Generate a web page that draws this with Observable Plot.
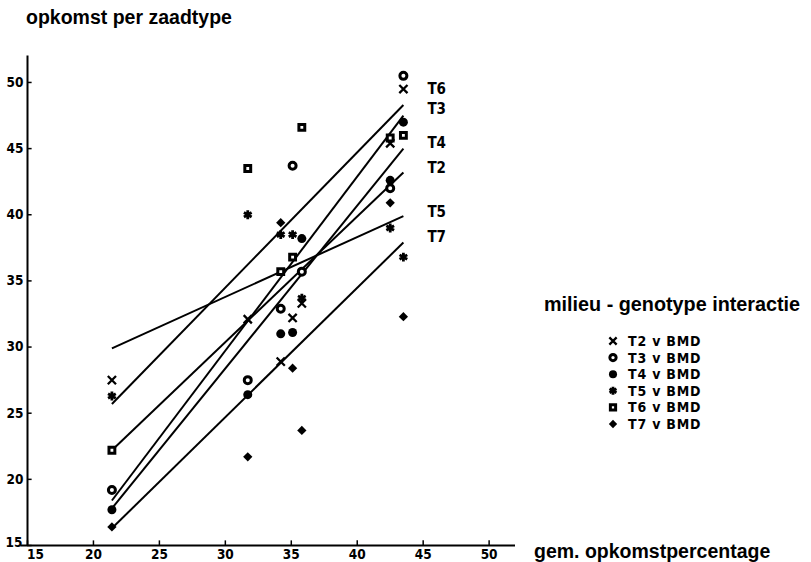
<!DOCTYPE html>
<html><head><meta charset="utf-8">
<script src="https://cdn.jsdelivr.net/npm/d3@7"></script>
<script src="https://cdn.jsdelivr.net/npm/@observablehq/plot@0.6"></script>
<style>
body{margin:0;background:#fff}
svg{display:block}
</style>
</head><body><div id="chart"></div>
<script>
// environment means (gem. opkomstpercentage)
const environments = [21.4, 31.7, 34.2, 35.1, 35.8, 42.5, 43.5];
const genotypes = ["T2", "T3", "T4", "T5", "T6", "T7"];
// opkomst per zaadtype, per environment
const T2 = [27.5, 32.1, 28.9, 32.2, 33.3, 45.4, 49.5];
const T3 = [19.2, 27.5, 32.9, 43.7, 35.7, 42.0, 50.5];
const T4 = [17.7, 26.4, 31.0, 31.1, 38.2, 42.6, 47.0];
const T5 = [26.3, 40.0, 38.5, 38.5, 33.7, 39.0, 36.8];
const T6 = [22.2, 43.5, 35.7, 36.8, 46.6, 45.8, 46.0];
const T7 = [16.4, 21.7, 39.4, 28.4, 23.7, 40.9, 32.3];
// fitted regression lines: value at lowest and highest environment
const lineStart = [22.2, 18.4, 17.8, 29.9, 25.7, 16.3];
const lineEnd = [43.2, 47.5, 45.0, 39.9, 48.3, 37.9];
// right-hand line label heights
const labelY = [43.5, 48.0, 45.4, 40.2, 49.5, 38.3];
const legendLabels = ["T2 v BMD", "T3 v BMD", "T4 v BMD", "T5 v BMD", "T6 v BMD", "T7 v BMD"];
const xTicks = [15, 20, 25, 30, 35, 40, 45, 50];
const yTicks = [15, 20, 25, 30, 35, 40, 45, 50];

const series = {T2, T3, T4, T5, T6, T7};
const rows = genotypes.flatMap(g => series[g].map((v, i) => ({genotype: g, x: environments[i], y: v})));
const lines = genotypes.map((g, i) => ({genotype: g, y1: lineStart[i], y2: lineEnd[i], label: g, ly: labelY[i]}));
const xMin = d3.min(environments), xMax = d3.max(environments);
const xOrigin = xTicks[0], yOrigin = yTicks[0];

const styles = {
  T2: {symbol: "times", stroke: "black", strokeWidth: 2.3, fill: "none", r: 3.8},
  T3: {symbol: "circle", stroke: "black", strokeWidth: 3, fill: "white", r: 3.5},
  T4: {symbol: "circle", fill: "black", stroke: "none", r: 4.5},
  T5: {symbol: "asterisk", stroke: "black", strokeWidth: 2.8, fill: "none", r: 4.2},
  T6: {symbol: "square", stroke: "black", strokeWidth: 3, fill: "white", r: 3.3},
  T7: {symbol: "square", fill: "black", stroke: "none", r: 3.7, rotate: 45}
};

const tickFont = "'Liberation Sans Narrow', 'DejaVu Sans Condensed', sans-serif";
const titleFont = "'Liberation Sans', Arial, sans-serif";
const tickText = {fontSize: 13.5, fontWeight: "bold", fill: "black"};

const plot = Plot.plot({
  width: 811,
  height: 562,
  marginLeft: 27,
  marginRight: 296,
  marginTop: 55.5,
  marginBottom: 17,
  style: {background: "white", fontFamily: tickFont},
  x: {domain: [15, 52], axis: null},
  y: {domain: [15, 52], axis: null},
  marks: [
    // axis lines
    Plot.ruleY([yOrigin], {x1: 14.5, x2: 52, stroke: "black", strokeWidth: 2}),
    Plot.ruleX([xOrigin], {y1: 15, y2: 52, stroke: "black", strokeWidth: 2}),
    // short inward ticks
    Plot.ruleX(xTicks, {x: d => d, y1: yOrigin, y2: yOrigin + 0.35, stroke: "black", strokeWidth: 1.5}),
    Plot.ruleY(yTicks, {y: d => d, x1: xOrigin, x2: xOrigin + 0.35, stroke: "black", strokeWidth: 1.5}),
    // x tick labels (15 shifted right of the corner)
    Plot.text(xTicks.filter(d => d !== xOrigin), {x: d => d, y: yOrigin, text: d => String(d), dy: 9.5, ...tickText}),
    Plot.text([xOrigin], {x: d => d, y: yOrigin, text: d => String(d), dy: 9, dx: 8, ...tickText}),
    // y tick labels
    Plot.text(yTicks.filter(d => d !== yOrigin), {x: xOrigin, y: d => d, text: d => String(d), dx: -4, textAnchor: "end", ...tickText}),
    Plot.text([yOrigin], {x: xOrigin, y: d => d, text: d => String(d), dx: -5, dy: -3, textAnchor: "end", ...tickText}),
    // regression lines
    Plot.link(lines, {x1: () => xMin, x2: () => xMax, y1: "y1", y2: "y2", stroke: "black", strokeWidth: 2}),
    Plot.text(lines, {x: () => xMax, y: "ly", text: "label", dx: 24, textAnchor: "start", fontSize: 15, fontWeight: "bold", fill: "black"}),
    // points per genotype
    ...genotypes.map(g => Plot.dot(rows.filter(d => d.genotype === g), {x: "x", y: "y", ...styles[g]}))
  ]
});

document.getElementById("chart").appendChild(plot);
const svg = d3.select(plot);

function addText(x, y, txt, size) {
  svg.append("text").attr("x", x).attr("y", y)
    .attr("text-anchor", "start")
    .attr("font-family", titleFont).attr("font-size", size).attr("font-weight", "bold")
    .text(txt);
}
addText(26, 24, "opkomst per zaadtype", 19.5);
addText(534, 558, "gem. opkomstpercentage", 19.5);
addText(544, 311, "milieu - genotype interactie", 19.8);

// legend
const symbolGen = {times: d3.symbolTimes, circle: d3.symbolCircle, asterisk: d3.symbolAsterisk, square: d3.symbolSquare};
const leg = svg.append("g");
genotypes.forEach((g, i) => {
  const s = styles[g];
  const y = 341 + i * 16.6;
  leg.append("path")
    .attr("transform", `translate(613,${y})` + (s.rotate ? ` rotate(${s.rotate})` : ""))
    .attr("d", d3.symbol(symbolGen[s.symbol], Math.PI * s.r * s.r * 0.8)())
    .attr("fill", s.fill).attr("stroke", s.stroke).attr("stroke-width", s.strokeWidth || 0);
  leg.append("text").attr("x", 628).attr("y", y + 5)
    .attr("text-anchor", "start")
    .attr("font-family", tickFont).attr("font-size", 14).attr("font-weight", "bold")
    .attr("letter-spacing", 0.8)
    .text(legendLabels[i]);
});
</script>
</body></html>
